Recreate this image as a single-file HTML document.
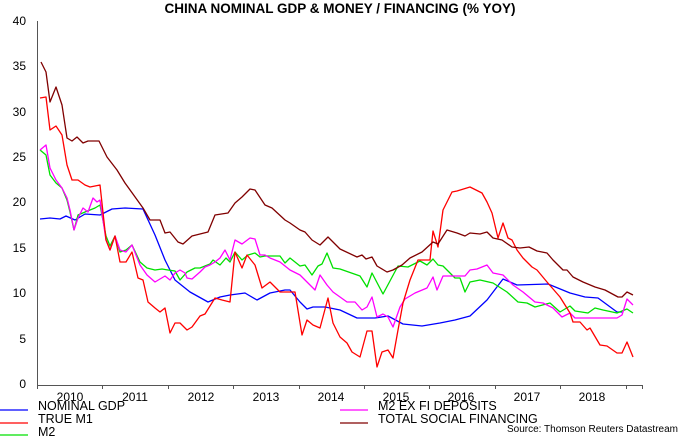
<!DOCTYPE html>
<html><head><meta charset="utf-8"><style>
body{margin:0;background:#fff;}
svg{display:block;font-family:"Liberation Sans",Arial,sans-serif;}
</style></head><body>
<svg width="680" height="436" viewBox="0 0 680 436">
<text x="340" y="13" text-anchor="middle" font-size="13.5" font-weight="bold">CHINA NOMINAL GDP &amp; MONEY / FINANCING (% YOY)</text>
<g font-size="12" fill="#000" text-anchor="end">
<text x="26" y="388">0</text><text x="26" y="343">5</text><text x="26" y="297">10</text><text x="26" y="252">15</text>
<text x="26" y="206">20</text><text x="26" y="161">25</text><text x="26" y="116">30</text><text x="26" y="70">35</text><text x="26" y="25">40</text>
</g>
<g stroke="#555" stroke-width="1" fill="none">
<line x1="37.5" y1="21" x2="37.5" y2="385"/>
<line x1="37" y1="385.5" x2="643" y2="385.5"/>
</g>
<g id="yt" stroke="#555" stroke-width="1"></g>
<g font-size="12" text-anchor="middle">
<text x="70" y="401">2010</text><text x="135" y="401">2011</text><text x="201" y="401">2012</text><text x="266" y="401">2013</text><text x="331" y="401">2014</text><text x="396" y="401">2015</text><text x="461" y="401">2016</text><text x="527" y="401">2017</text><text x="592" y="401">2018</text>
</g>
<g stroke="#555"><line x1="37.5" y1="385" x2="37.5" y2="389"/><line x1="102.5" y1="385" x2="102.5" y2="389"/><line x1="168.5" y1="385" x2="168.5" y2="389"/><line x1="233.5" y1="385" x2="233.5" y2="389"/><line x1="299.5" y1="385" x2="299.5" y2="389"/><line x1="364.5" y1="385" x2="364.5" y2="389"/><line x1="429.5" y1="385" x2="429.5" y2="389"/><line x1="495.5" y1="385" x2="495.5" y2="389"/><line x1="560.5" y1="385" x2="560.5" y2="389"/><line x1="626.5" y1="385" x2="626.5" y2="389"/><line x1="642.5" y1="385" x2="642.5" y2="389"/></g>
<g fill="none" stroke-width="1.3" stroke-linejoin="round">
<polyline stroke="#0000ff" points="40,219 50,218 60,219 66,216 75,220 85,214 100,215 112,209 125,208 143,209 155,235 165,260 175,280 190,292 208,302 220,297 230,295 245,293 257,300 270,293 285,290 290,290 300,302 307,309 313,307 325,307 340,310 357,318 375,318 388,316 403,324 422,326 440,323 455,320 470,316 487,300 503,279 517,285 548,284 570,293 585,297 598,298 617,312 622,312"/>
<polyline stroke="#00e000" points="40,150 46,155 50,175 56,183 62,188 67,200 70,212 74,230 78,215 85,212 90,210 95,208 100,205 106,236 110,246 115,236 120,252 126,250 132,245 140,262 147,268 155,270 162,269 168,270 175,271 180,280 187,272 195,268 200,268 210,264 213,260 220,265 226,258 230,262 235,252 242,260 248,255 255,253 260,257 265,256 280,256 285,263 290,258 300,266 305,265 312,275 318,266 322,264 327,253 333,268 340,269 360,276 367,287 372,273 383,294 398,266 408,267 420,261 427,265 433,259 438,265 443,266 455,278 460,278 465,292 470,282 480,280 493,283 507,292 518,302 527,303 535,307 550,303 560,312 570,306 575,311 588,313 595,308 603,310 617,313 627,309 633,313"/>
<polyline stroke="#ff00ff" points="40,150 46,145 50,168 56,180 62,188 67,198 70,210 74,230 78,218 83,208 88,212 93,198 97,202 100,200 106,240 110,250 115,236 120,250 126,252 132,245 140,265 147,275 155,282 160,279 165,276 170,280 175,273 180,270 185,273 187,278 192,279 200,272 205,267 210,265 215,262 220,258 225,250 230,260 235,240 242,244 250,238 255,239 260,255 265,255 270,258 280,262 290,270 300,275 310,285 315,290 320,275 327,285 333,292 340,297 347,302 355,302 362,310 367,307 372,297 377,317 383,314 388,317 393,327 400,307 405,299 415,293 427,288 433,277 437,290 443,276 453,276 465,276 470,270 477,269 487,265 493,273 503,275 513,285 523,292 535,302 543,303 553,308 562,317 570,313 575,318 593,318 617,318 622,315 627,299 633,305"/>
<polyline stroke="#ff0000" points="40,98 46,97 50,130 56,126 62,135 67,165 72,180 78,180 85,185 90,187 100,185 106,240 110,250 115,236 120,262 126,262 132,252 138,278 143,280 148,302 155,308 160,312 165,308 170,333 175,323 180,323 187,330 192,327 200,316 205,314 215,298 222,300 230,302 235,252 242,268 247,255 255,265 262,288 270,282 280,292 290,292 295,292 302,335 307,320 313,325 320,328 328,298 333,323 340,337 347,343 352,352 360,357 367,331 372,331 377,367 382,352 388,350 393,358 398,330 403,303 410,280 418,260 425,260 430,260 433,231 438,247 443,210 452,192 457,191 470,187 482,193 487,202 492,213 498,238 503,223 508,238 512,240 517,250 523,258 532,267 537,270 547,282 560,297 570,313 573,322 580,322 587,330 590,328 600,345 607,346 617,353 622,353 627,342 633,357"/>
<polyline stroke="#800000" points="41,62 46,72 50,102 56,87 62,105 67,138 72,141 77,137 83,143 88,141 99,141 107,157 117,170 125,183 143,208 150,220 160,220 165,233 170,232 178,242 183,244 192,236 208,232 215,215 228,213 235,203 242,197 250,189 255,190 265,205 272,208 285,220 290,223 300,230 305,232 312,240 320,245 328,237 340,249 357,257 362,255 366,259 372,257 377,266 387,272 393,270 402,265 410,258 422,252 433,242 438,244 447,230 457,233 465,236 470,233 480,234 487,232 493,238 502,240 512,247 520,248 529,247 537,251 547,253 553,260 563,270 567,270 573,277 583,282 595,287 605,290 618,297 622,297 627,292 633,295"/>
</g>
<g stroke-width="1.3">
<line x1="0" y1="410" x2="28" y2="410" stroke="#0000ff"/>
<line x1="0" y1="423" x2="28" y2="423" stroke="#ff0000"/>
<line x1="0" y1="435" x2="28" y2="435" stroke="#00e000"/>
<line x1="340" y1="410" x2="368" y2="410" stroke="#ff00ff"/>
<line x1="340" y1="423" x2="368" y2="423" stroke="#800000"/>
</g>
<g font-size="12.5">
<text x="38" y="410">NOMINAL GDP</text>
<text x="38" y="423">TRUE M1</text>
<text x="38" y="436">M2</text>
<text x="378" y="410">M2 EX FI DEPOSITS</text>
<text x="378" y="423">TOTAL SOCIAL FINANCING</text>
</g>
<text x="678" y="432" font-size="10" text-anchor="end">Source: Thomson Reuters Datastream</text>
<script>
var g=document.getElementById('yt'),s='';
for(var v=0;v<=40;v++){var y=384.5-9.075*v;var l=(v%5==0)?6:3;s+='<line x1="'+(37-l)+'" y1="'+y.toFixed(1)+'" x2="37" y2="'+y.toFixed(1)+'"/>';}
g.innerHTML=s;
</script>
</svg>
</body></html>
